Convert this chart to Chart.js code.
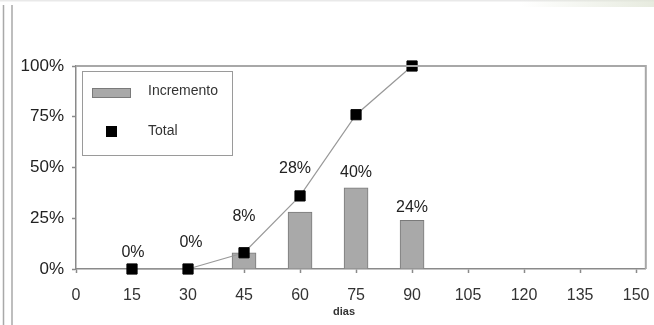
<!DOCTYPE html>
<html>
<head>
<meta charset="utf-8">
<script src="https://cdn.jsdelivr.net/npm/chart.js@4.4.1/dist/chart.umd.min.js"></script>
<style>
  html, body { margin: 0; padding: 0; background: #ffffff; }
  #wrap { width: 654px; height: 325px; }
</style>
</head>
<body>
<div id="wrap"><canvas id="c" width="654" height="325"></canvas></div>
<script>
// Days of the schedule
const days = [15, 30, 45, 60, 75, 90];
// Increment per period (%)
const incremento = [0, 0, 8, 28, 40, 24];
// Accumulated total (%)
const total = [0, 0, 8, 36, 76, 100];
// Axis ticks
const xTicks = [0, 15, 30, 45, 60, 75, 90, 105, 120, 135, 150];
const yTicks = [0, 25, 50, 75, 100];

const FONT = '"Liberation Sans", Arial, sans-serif';
const AXIS_GRAY = '#8a8a8a';

// Frame, legend box, value labels and surrounding decoration
const decor = {
  id: 'decor',
  beforeDraw(chart) {
    const ctx = chart.ctx;
    const W = chart.width, H = chart.height;
    ctx.save();
    ctx.fillStyle = '#ffffff';
    ctx.fillRect(0, 0, W, H);
    // faint top edge
    ctx.fillStyle = '#e9e9e9';
    ctx.fillRect(0, 0, W, 1.5);
    const g = ctx.createLinearGradient(520, 0, W, 0);
    g.addColorStop(0, 'rgba(225,230,215,0)');
    g.addColorStop(1, 'rgba(225,230,215,0.8)');
    ctx.fillStyle = g;
    ctx.fillRect(520, 0, W - 520, 7);
    // double rule on the left
    ctx.strokeStyle = '#a9a9a9';
    ctx.lineWidth = 1.5;
    ctx.beginPath();
    ctx.moveTo(3.5, 5); ctx.lineTo(3.5, H);
    ctx.moveTo(12, 5); ctx.lineTo(12, H);
    ctx.stroke();
    ctx.restore();
  },
  afterDatasetsDraw(chart, args, opts) {
    const ctx = chart.ctx;
    const a = chart.chartArea;
    ctx.save();
    // top and right frame
    ctx.strokeStyle = '#a8a8a8';
    ctx.lineWidth = 2;
    ctx.beginPath();
    ctx.moveTo(a.left, a.top);
    ctx.lineTo(a.right, a.top);
    ctx.lineTo(a.right, a.bottom);
    ctx.stroke();

    // value labels above bars
    const meta = chart.getDatasetMeta(0);
    ctx.fillStyle = '#222';
    ctx.font = '16px ' + FONT;
    ctx.textAlign = 'center';
    ctx.textBaseline = 'middle';
    meta.data.forEach((bar, i) => {
      const dy = opts.dy[i] || 0;
      const dx = opts.dx[i] || 0;
      ctx.fillText(incremento[i] + '%', bar.x + dx, bar.y + dy);
    });

    // axis title
    ctx.font = 'bold 11px ' + FONT;
    ctx.fillStyle = '#333';
    ctx.fillText('dias', a.left + 268, 312);

    // legend box
    const lx = 82, ly = 71, lw = 150, lh = 84;
    ctx.fillStyle = '#fff';
    ctx.fillRect(lx, ly, lw, lh);
    ctx.strokeStyle = '#9a9a9a';
    ctx.lineWidth = 1;
    ctx.strokeRect(lx + 0.5, ly + 0.5, lw, lh);
    const ds0 = chart.data.datasets[0];
    const ds1 = chart.data.datasets[1];
    ctx.fillStyle = ds0.backgroundColor;
    ctx.fillRect(92, 88, 39, 10);
    ctx.strokeStyle = ds0.borderColor;
    ctx.strokeRect(92.5, 88.5, 38, 9);
    ctx.fillStyle = ds1.pointBackgroundColor;
    ctx.fillRect(106, 126, 11, 11);
    ctx.fillStyle = '#333';
    ctx.font = '14px ' + FONT;
    ctx.textAlign = 'left';
    ctx.fillText(ds0.label, 148, 91);
    ctx.fillText(ds1.label, 148, 131);
    ctx.restore();
  }
};

new Chart(document.getElementById('c'), {
  type: 'bar',
  data: {
    datasets: [
      {
        type: 'bar',
        label: 'Incremento',
        data: days.map((d, i) => ({ x: d, y: incremento[i] })),
        backgroundColor: '#a9a9a9',
        borderColor: '#7a7a7a',
        borderWidth: 1,
        borderSkipped: 'bottom',
        barThickness: 24,
        order: 2
      },
      {
        type: 'line',
        label: 'Total',
        data: days.map((d, i) => ({ x: d, y: total[i] })),
        borderColor: '#999999',
        borderWidth: 1.2,
        pointStyle: 'rect',
        pointRadius: 7.2,
        pointBorderWidth: 1,
        pointBackgroundColor: '#000',
        pointBorderColor: '#000',
        tension: 0,
        clip: false,
        order: 1
      }
    ]
  },
  options: {
    responsive: false,
    animation: false,
    devicePixelRatio: 1,
    layout: { padding: { top: 66, right: 7, left: 0, bottom: 0 } },
    plugins: {
      legend: { display: false },
      tooltip: { enabled: false },
      decor: {
        dx: [1, 3, 0, -5, 0, 0],
        dy: [-16, -26.5, -36, -44, -15, -12.5]
      }
    },
    scales: {
      x: {
        type: 'linear',
        offset: false,
        min: 0,
        max: 152.6,
        afterBuildTicks: s => { s.ticks = xTicks.map(v => ({ value: v })); },
        afterFit: s => { s.height = 56; s.paddingLeft = 0; s.paddingRight = 0; },
        grid: { offset: false, drawOnChartArea: false, drawTicks: true, tickLength: 4, color: AXIS_GRAY, tickWidth: 1.5 },
        border: { color: AXIS_GRAY, width: 1.5 },
        ticks: {
          autoSkip: false,
          maxRotation: 0,
          padding: 13,
          color: '#333',
          font: { family: FONT, size: 16 },
          callback: v => String(v)
        }
      },
      y: {
        min: 0,
        max: 100,
        afterBuildTicks: s => { s.ticks = yTicks.map(v => ({ value: v })); },
        afterFit: s => { s.width = 76; s.paddingTop = 0; s.paddingBottom = 0; },
        grid: { drawOnChartArea: false, drawTicks: true, tickLength: 4, color: AXIS_GRAY, tickWidth: 1.5 },
        border: { color: AXIS_GRAY, width: 1.5 },
        ticks: {
          padding: 8,
          color: '#222',
          font: { family: FONT, size: 17 },
          callback: v => v + '%'
        }
      }
    }
  },
  plugins: [decor]
});
</script>
</body>
</html>
